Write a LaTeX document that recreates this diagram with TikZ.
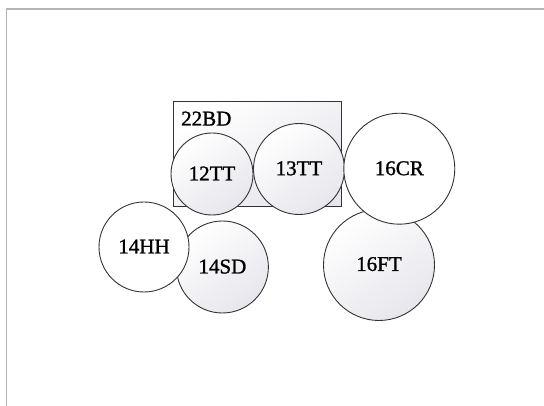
\documentclass[tikz,border=0pt]{standalone}
\usepackage{fontspec}
\setmainfont{Liberation Serif}[FakeBold=1.2]
\definecolor{edge}{HTML}{333333}
\definecolor{lav}{HTML}{E6E6EC}
\definecolor{framegray}{HTML}{B4B4B4}
\begin{document}
\begin{tikzpicture}[x=1pt,y=-1pt,
  drum/.style={circle,draw=edge,line width=0.9pt,inner sep=0pt,font=\fontsize{21}{24}\selectfont},
  shaded/.style={shading=axis,top color=white,bottom color=lav,shading angle=35},
  plain/.style={fill=white},
  lbl/.style={font=\fontsize{21}{24}\selectfont,inner sep=0pt}]
\useasboundingbox (0,0) rectangle (544,406);
\draw[framegray,line width=1.3pt] (6.5,420) -- (6.5,9) -- (560,9);
\draw[edge,line width=0.9pt,shaded] (173.5,101.7) rectangle (341.5,206);
\node[lbl,anchor=base west] (bd) at (181,125.5) {22BD};
\node[drum,shaded,minimum size=82pt] (tt12) at (212,174) {\raisebox{1pt}{12TT}};
\node[drum,shaded,minimum size=91pt] (tt13) at (299,169) {\raisebox{1.5pt}{13TT}};
\node[drum,shaded,minimum size=111pt] (ft16) at (379,265) {\raisebox{2pt}{16FT}};
\node[drum,plain,minimum size=111pt] (cr16) at (399.3,168.7) {\raisebox{1pt}{16CR}};
\node[drum,shaded,minimum size=92pt] (sd14) at (222.4,267) {\raisebox{1pt}{14SD}};
\node[drum,plain,minimum size=90pt] (hh14) at (144,247) {\raisebox{1pt}{14HH}};
\end{tikzpicture}
\end{document}
